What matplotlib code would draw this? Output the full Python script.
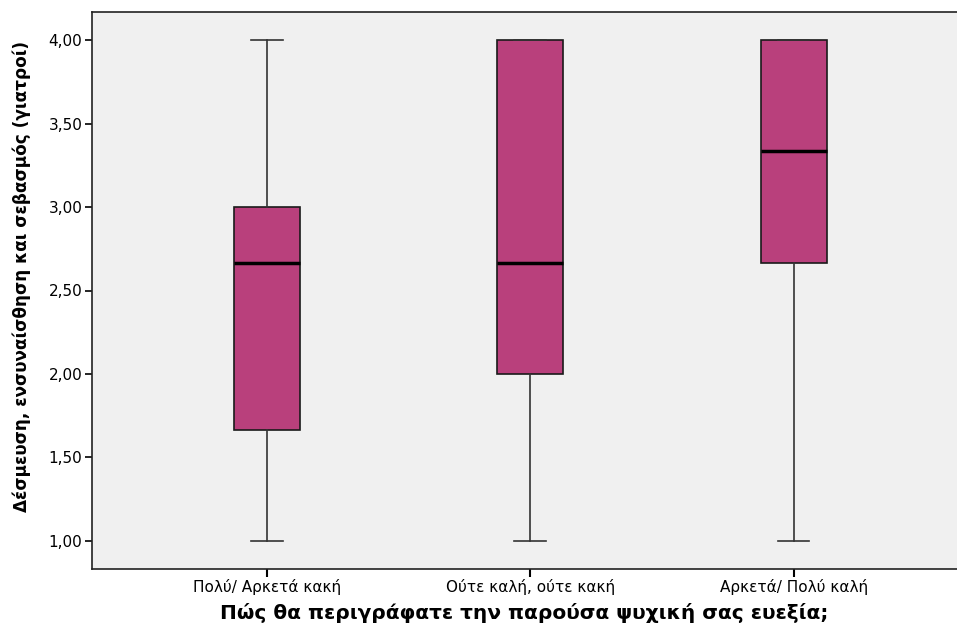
import matplotlib.pyplot as plt
from matplotlib.ticker import FuncFormatter

# box plot summary
categories = ["Πολύ/ Αρκετά κακή", "Ούτε καλή, ούτε κακή", "Αρκετά/ Πολύ καλή"]
whisker_low = [1.0, 1.0, 1.0]
q1 = [1.667, 2.0, 2.667]
median = [2.667, 2.667, 3.333]
q3 = [3.0, 4.0, 4.0]
whisker_high = [4.0, 4.0, 4.0]

plt.rcParams['font.family'] = ['DejaVu Sans']

stats = []
for i in range(len(categories)):
    stats.append({"whislo": whisker_low[i], "q1": q1[i], "med": median[i],
                  "q3": q3[i], "whishi": whisker_high[i], "fliers": []})

fig = plt.figure(figsize=(9.57, 6.28), dpi=100)
ax = fig.add_axes([92 / 957, 1 - 569 / 628, 1 - 92 / 957, (569 - 12) / 628])
ax.set_facecolor("#F0F0F0")

ax.bxp(stats, positions=[1, 2, 3], widths=0.25, capwidths=0.12,
       showfliers=False, patch_artist=True,
       boxprops=dict(facecolor="#B9407C", edgecolor="#1a1a1a", linewidth=1.2),
       medianprops=dict(color="black", linewidth=2.5, solid_capstyle="butt"),
       whiskerprops=dict(color="#333333", linewidth=1.2),
       capprops=dict(color="#333333", linewidth=1.2))

ax.set_xlim(0.336, 3.62)
ax.set_ylim(0.832, 4.168)
ax.set_yticks([1.0, 1.5, 2.0, 2.5, 3.0, 3.5, 4.0])
ax.yaxis.set_major_formatter(FuncFormatter(lambda v, p: f"{v:.2f}".replace(".", ",")))
ax.set_xticks([1, 2, 3])
ax.set_xticklabels(categories)

ax.spines["right"].set_visible(False)
for s in ["left", "top", "bottom"]:
    ax.spines[s].set_linewidth(1.2)
    ax.spines[s].set_color("#222222")

ax.tick_params(axis="y", length=5, width=1.2, labelsize=11, pad=2)
ax.tick_params(axis="x", length=6, width=1.5, labelsize=11, pad=1)

ax.set_xlabel("Πώς θα περιγράφατε την παρούσα ψυχική σας ευεξία;",
              fontsize=14.5, fontweight="bold", labelpad=6)
ax.set_ylabel("Δέσμευση, ενσυναίσθηση και σεβασμός (γιατροί)",
              fontsize=12.2, fontweight="bold")
ax.yaxis.set_label_coords(-0.0705, 0.525)

fig.savefig("out.png", dpi=100)
